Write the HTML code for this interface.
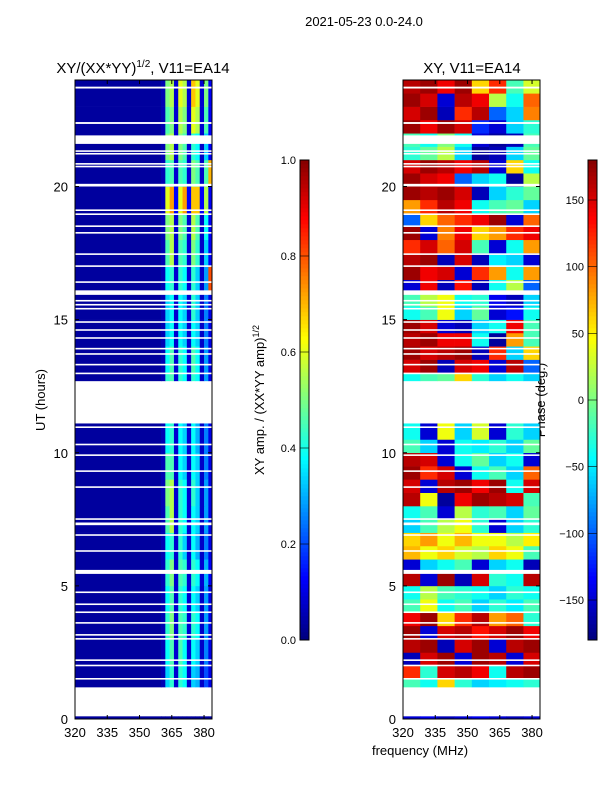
<!DOCTYPE html>
<html><head><meta charset="utf-8"><style>
body{margin:0;background:#fff}
svg text{font-family:"Liberation Sans",sans-serif;fill:#000}
</style></head><body>
<svg id="fig" width="600" height="800" xmlns="http://www.w3.org/2000/svg">
<text x="364" y="26" font-size="13" text-anchor="middle">2021-05-23 0.0-24.0</text>
<text x="143" y="73" font-size="15" text-anchor="middle">XY/(XX*YY)<tspan font-size="10" dy="-6">1/2</tspan><tspan dy="6">, V11=EA14</tspan></text>
<text x="472" y="73" font-size="15" text-anchor="middle">XY, V11=EA14</text>
<text font-size="13" text-anchor="middle" transform="translate(45,400) rotate(-90)">UT (hours)</text>
<text x="420" y="755" font-size="13" text-anchor="middle">frequency (MHz)</text>
<text font-size="13" text-anchor="middle" transform="translate(264,400) rotate(-90)">XY amp. / (XX*YY amp)<tspan font-size="9" dy="-5">1/2</tspan></text>
<text font-size="13" text-anchor="middle" transform="translate(545,400) rotate(-90)">Phase (deg.)</text>
<g id="left"></g><g id="right"></g><g id="cb1"></g><g id="cb2"></g>
</svg>
<script>
// time rows (hours): start, end
const rowStart=[0,1.2,2,3,4,5,6,7,8,9,10,12.7,13,14,15,16,17,18,19,20,21,22,23];
const rowEnd=[0.1,2,3,4,5,6,7,8,9,10,11.1,13,14,15,16,17,18,19,20,21,22,23,24];
// left: base value for 320-360 MHz, then 12 columns of 2 MHz (360-384)
const ampBase=0.03;
const ampFreqStart=360, ampFreqStep=2;
const ampValues=[
[0.03,0.03,0.03,0.03,0.03,0.03,0.03,0.03,0.03,0.03,0.03,0.03],
[0.05,0.33,0.42,0.08,0.42,0.38,0.08,0.33,0.3,0.07,0.2,0.1],
[0.05,0.38,0.45,0.08,0.45,0.38,0.08,0.38,0.33,0.07,0.25,0.1],
[0.05,0.42,0.5,0.08,0.45,0.42,0.08,0.42,0.38,0.07,0.28,0.1],
[0.05,0.38,0.45,0.08,0.42,0.38,0.08,0.38,0.33,0.07,0.28,0.1],
[0.05,0.42,0.5,0.08,0.45,0.42,0.08,0.42,0.38,0.08,0.3,0.12],
[0.05,0.38,0.42,0.08,0.42,0.33,0.08,0.38,0.3,0.07,0.25,0.1],
[0.05,0.45,0.55,0.08,0.42,0.38,0.08,0.38,0.33,0.07,0.28,0.1],
[0.05,0.5,0.55,0.08,0.42,0.38,0.08,0.42,0.33,0.07,0.28,0.1],
[0.05,0.45,0.45,0.08,0.38,0.33,0.08,0.38,0.33,0.07,0.25,0.1],
[0.05,0.38,0.42,0.08,0.38,0.33,0.08,0.38,0.3,0.07,0.25,0.1],
[0.05,0.42,0.45,0.08,0.42,0.38,0.08,0.42,0.38,0.07,0.28,0.1],
[0.05,0.38,0.45,0.08,0.42,0.38,0.08,0.45,0.38,0.07,0.28,0.1],
[0.05,0.33,0.38,0.08,0.38,0.33,0.08,0.38,0.33,0.07,0.25,0.1],
[0.05,0.33,0.38,0.08,0.38,0.33,0.08,0.42,0.33,0.07,0.25,0.1],
[0.05,0.38,0.42,0.08,0.42,0.38,0.08,0.42,0.33,0.07,0.28,0.8],
[0.05,0.45,0.55,0.08,0.45,0.42,0.08,0.5,0.42,0.07,0.33,0.12],
[0.05,0.5,0.55,0.08,0.5,0.45,0.08,0.55,0.45,0.07,0.38,0.12],
[0.05,0.6,0.72,0.12,0.6,0.72,0.12,0.68,0.68,0.12,0.55,0.12],
[0.05,0.42,0.45,0.08,0.45,0.42,0.08,0.5,0.45,0.07,0.45,0.7],
[0.05,0.5,0.55,0.08,0.5,0.45,0.08,0.42,0.38,0.07,0.33,0.12],
[0.05,0.45,0.5,0.08,0.55,0.5,0.08,0.6,0.55,0.08,0.45,0.12],
[0.05,0.5,0.55,0.08,0.6,0.55,0.08,0.68,0.6,0.08,0.5,0.12]];
// right: phase in degrees, 8 columns of 8 MHz (320-384), half-hour rows
const phStart=[0,1.2,1.5,2,2.5,3,3.5,4,4.5,5,5.5,6,6.5,7,7.5,8,8.5,9,9.5,10,10.5,12.7,13,13.5,14,14.5,15,15.5,16,16.5,17,17.5,18,18.5,19,19.5,20,20.5,21,21.5,22,22.5,23,23.5];
const phEnd=[0.1,1.5,2,2.5,3,3.5,4,4.5,5,5.5,6,6.5,7,7.5,8,8.5,9,9.5,10,10.5,11.1,13,13.5,14,14.5,15,15.5,16,16.5,17,17.5,18,18.5,19,19.5,20,20.5,21,21.5,22,22.5,23,23.5,24];
const phFreqStart=320, phFreqStep=8;
const phValues=[
[-150,-140,-160,-150,-140,-150,-160,-150],
[-20,-40,60,-30,-60,-50,-40,-30],
[120,-30,150,160,140,-40,160,170],
[-160,150,170,-150,170,160,-150,150],
[160,170,-160,150,170,-150,160,170],
[170,-150,150,160,130,150,170,140],
[140,170,60,120,160,80,100,-30],
[-20,40,-40,-20,-60,-30,-50,-20],
[-40,20,-20,-30,-40,-60,-30,-40],
[160,-150,170,-160,150,-30,-40,160],
[-150,-60,-40,-20,-150,-60,-40,-160],
[70,40,60,30,20,60,40,-20],
[60,80,40,70,40,40,20,50],
[-60,-20,20,40,-30,-150,-60,-30],
[-40,-20,-150,20,-30,-20,-60,-10],
[160,40,-170,140,170,160,150,-20],
[150,-150,160,170,140,170,-40,150],
[170,120,150,-150,-40,-20,-60,100],
[160,150,-150,-40,-10,-60,-40,-150],
[-20,-60,-150,-40,-50,-30,-60,-10],
[-40,-150,40,-60,30,-150,-30,-60],
[-40,-20,-10,60,-30,-60,-40,-60],
[150,170,-160,150,140,-150,160,-100],
[170,150,160,170,-160,120,-60,60],
[160,170,140,140,-40,-170,80,-20],
[170,150,-150,-160,-60,-40,140,-20],
[-40,-20,40,-60,-10,-150,-130,-40],
[-20,20,40,-40,-30,-140,-160,-60],
[-150,140,-160,130,-160,-40,20,-100],
[170,140,150,-150,120,80,-40,80],
[160,170,-160,150,-160,-50,-60,-150],
[120,150,100,150,-20,-150,-40,80],
[170,-150,90,140,60,80,120,140],
[-100,60,100,120,140,170,-150,100],
[80,120,160,140,-40,-20,-10,-60],
[170,160,170,150,-160,-60,-30,-10],
[170,150,140,-100,-60,-40,-170,20],
[150,170,160,140,160,-150,60,-40],
[-30,-10,20,-60,-170,-160,-60,-10],
[-20,-40,0,-40,-150,-170,-160,-20],
[170,140,170,150,-120,-150,-60,-30],
[150,170,-160,120,160,-100,-60,90],
[170,150,-150,160,140,20,-40,100],
[160,170,140,170,60,120,-20,30]];
// flagged (blank) time lines: start, end hours
const gapStart=[23.68,22.35,21.6,21.3,21.2,20.82,20.72,20.0,19.08,18.93,18.48,18.23,17.43,16.98,16.38,15.93,15.68,15.53,15.38,14.88,14.58,14.28,13.88,13.68,13.28,12.95,10.93,10.28,9.88,9.28,8.68,7.48,7.28,6.88,6.28,5.45,4.73,4.28,3.98,3.58,3.13,2.98,2.18,1.98,1.48];
const gapEnd=[23.75,22.42,21.92,21.36,21.26,20.88,20.78,20.1,19.14,18.99,18.54,18.29,17.49,17.04,16.44,16.1,15.74,15.59,15.44,14.94,14.64,14.34,13.94,13.74,13.34,13.01,10.99,10.34,9.94,9.34,8.74,7.54,7.38,6.94,6.34,5.6,4.79,4.34,4.04,3.64,3.19,3.04,2.24,2.04,1.54];
const yTicks=[0,5,10,15,20];
const xTicks=[320,335,350,365,380];
const ampTicks=[0,0.2,0.4,0.6,0.8,1.0];
const ampTickLabels=["0.0","0.2","0.4","0.6","0.8","1.0"];
const phTicks=[-150,-100,-50,0,50,100,150];
const phTickLabels=["\u2212150","\u2212100","\u221250","0","50","100","150"];

const NS="http://www.w3.org/2000/svg";
function jet(v){v=Math.max(0,Math.min(1,v));
 const f=x=>Math.round(255*Math.max(0,Math.min(1,1.5-Math.abs(4*v-x))));
 return `rgb(${f(3)},${f(2)},${f(1)})`;}
const yS=h=>719-h*(639/24);
const xL=f=>75+(f-320)*(137/63.7);
const xR=f=>403+(f-320)*(137/63.7);
function mk(tag,attrs,parent){const e=document.createElementNS(NS,tag);for(const k in attrs)e.setAttribute(k,attrs[k]);parent.appendChild(e);return e;}
const L=document.getElementById('left'),R=document.getElementById('right');


rowStart.forEach((t0,i)=>{const t1=rowEnd[i];
 const b=mk('rect',{x:xL(320),y:yS(t1),width:xL(ampFreqStart)-xL(320)+0.5,height:yS(t0)-yS(t1)+0.3,fill:jet(ampBase)},L);
 
 
 ampValues[i].forEach((v,j)=>{const f0=ampFreqStart+j*ampFreqStep;
  const c=mk('rect',{x:xL(f0),y:yS(t1),width:Math.min(xL(f0+ampFreqStep),212)-xL(f0)+0.3,height:yS(t0)-yS(t1)+0.3,fill:jet(v)},L);
  
  });
});
phStart.forEach((t0,i)=>{const t1=phEnd[i];
 phValues[i].forEach((v,j)=>{const f0=phFreqStart+j*phFreqStep;
  const c=mk('rect',{x:xR(f0),y:yS(t1),width:Math.min(xR(f0+phFreqStep),540)-xR(f0)+0.3,height:yS(t0)-yS(t1)+0.3,fill:jet((v+180)/360)},R);
  
  });
});
[[L,75],[R,403]].forEach(([g,x0])=>{
 gapStart.forEach((t0,i)=>{const r=mk('rect',{x:x0,y:yS(gapEnd[i]),width:137,height:yS(t0)-yS(gapEnd[i]),fill:'#fff'},g);
  
  });
 mk('rect',{x:x0,y:80,width:137,height:639,fill:'none',stroke:'#000','stroke-width':1},g);
 yTicks.forEach(t=>{mk('line',{x1:x0,x2:x0+4,y1:yS(t),y2:yS(t),stroke:'#000'},g);mk('line',{x1:x0+137,x2:x0+133,y1:yS(t),y2:yS(t),stroke:'#000'},g);
  const tx=mk('text',{x:x0-7,y:yS(t)+5,'font-size':13,'text-anchor':'end'},g);tx.textContent=t;
  
  });
 xTicks.forEach(f=>{const x=x0+(f-320)*(137/63.7);mk('line',{x1:x,x2:x,y1:719,y2:715,stroke:'#000'},g);mk('line',{x1:x,x2:x,y1:80,y2:84,stroke:'#000'},g);
  const tx=mk('text',{x:x,y:737,'font-size':13,'text-anchor':'middle'},g);tx.textContent=f;
  
  });
});
function colorbar(g,x0,ticks,labels,lo,hi,name){
 
 for(let i=0;i<120;i++){const v=i/120;mk('rect',{x:x0,y:640-(i+1)*4,width:9,height:4.3,fill:jet(v)},g);}
 mk('rect',{x:x0,y:160,width:9,height:480,fill:'none',stroke:'#000'},g);
 ticks.forEach((t,i)=>{const y=640-(t-lo)/(hi-lo)*480;
  mk('line',{x1:x0,x2:x0+9,y1:y,y2:y,stroke:'#000','stroke-width':0.6},g);
  const tx=mk('text',{x:x0-4,y:y+4,'font-size':11,'text-anchor':'end'},g);tx.textContent=labels[i];
  
  });
}
colorbar(document.getElementById('cb1'),300,ampTicks,ampTickLabels,0,1,'amp-colorbar');
colorbar(document.getElementById('cb2'),588,phTicks,phTickLabels,-180,180,'phase-colorbar');
</script>
</body></html>
